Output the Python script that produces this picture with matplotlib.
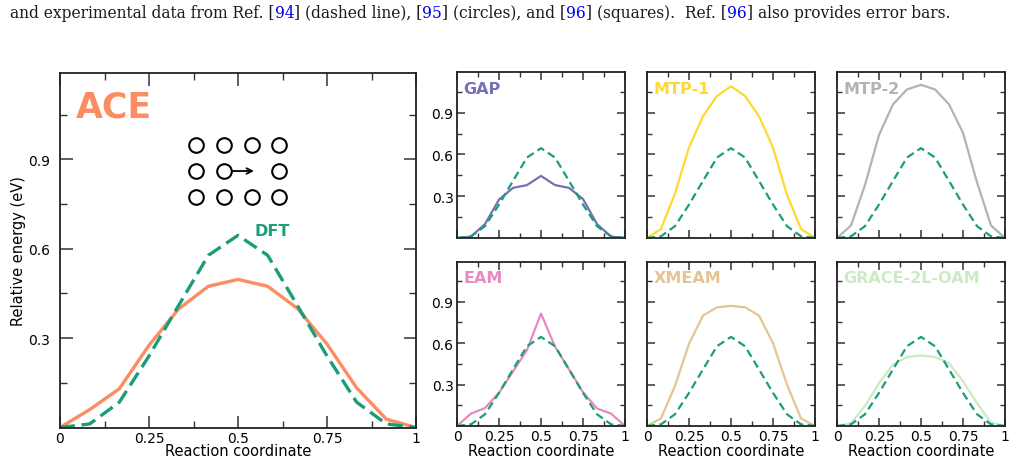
import numpy as np
import matplotlib.pyplot as plt

# reaction coordinate, 13 images along the path
rc = np.linspace(0, 1, 13)

dft = [0, 0.012, 0.085, 0.24, 0.41, 0.578, 0.645, 0.578, 0.41, 0.24, 0.085, 0.012, 0]
ace = [0, 0.06, 0.13, 0.276, 0.398, 0.474, 0.497, 0.474, 0.40, 0.28, 0.133, 0.028, 0]
gap = [0, 0.01, 0.10, 0.276, 0.36, 0.38, 0.446, 0.38, 0.36, 0.28, 0.10, 0.01, 0]
mtp1 = [0, 0.065, 0.32, 0.65, 0.875, 1.02, 1.09, 1.02, 0.875, 0.65, 0.31, 0.065, 0]
mtp2 = [0, 0.09, 0.38, 0.74, 0.96, 1.067, 1.10, 1.067, 0.96, 0.755, 0.40, 0.09, 0]
eam = [0, 0.09, 0.13, 0.24, 0.395, 0.55, 0.815, 0.575, 0.41, 0.245, 0.127, 0.09, 0]
xmeam = [0, 0.055, 0.29, 0.595, 0.80, 0.86, 0.87, 0.86, 0.80, 0.60, 0.30, 0.055, 0]
grace = [0, 0.02, 0.145, 0.31, 0.445, 0.50, 0.51, 0.50, 0.455, 0.325, 0.165, 0.025, 0]

small = [('GAP', gap, '#7570b3'), ('MTP-1', mtp1, '#ffd92f'), ('MTP-2', mtp2, '#b3b3b3'),
         ('EAM', eam, '#e78ac3'), ('XMEAM', xmeam, '#e5c494'), ('GRACE-2L-OAM', grace, '#ccebc5')]

xt = [0, 0.25, 0.5, 0.75, 1]
xtl = ['0', '0.25', '0.5', '0.75', '1']
yt = [0.3, 0.6, 0.9]
ytl = ['0.3', '0.6', '0.9']

c_dft = '#1b9e77'
c_ace = '#fc8d62'

W, H = 1014, 464
fig = plt.figure(figsize=(W / 100, H / 100), dpi=100)


def style(ax, big=False):
    ax.set_xlim(0, 1)
    ax.set_ylim(0, 1.19)
    ax.set_xticks(xt)
    ax.set_xticks(np.arange(0.125, 1, 0.25), minor=True)
    ax.set_yticks(yt)
    ax.set_yticks([0.15, 0.45, 0.75, 1.05], minor=True)
    L = 9 if big else 6
    ax.tick_params(which='major', direction='in', top=True, right=True, length=L, width=1.1,
                   labelsize=10, pad=2.5, color='#333333')
    ax.tick_params(which='minor', direction='in', top=True, right=True, length=L * 0.55, width=1.0,
                   color='#333333')
    for s in ax.spines.values():
        s.set_linewidth(1.3)
        s.set_color('#222222')


# big ACE panel
ax = fig.add_axes([60 / W, 1 - 428.5 / H, 356 / W, 354.5 / H])
style(ax, big=True)
ax.tick_params(axis='y', which='major', pad=7)
ax.plot(rc, ace, color=c_ace, lw=2.4)
ax.plot(rc, dft, color=c_dft, lw=2.4, dashes=(4.5, 2.0))
ax.set_xticklabels(xtl)
ax.set_yticklabels(ytl)
ax.set_xlabel('Reaction coordinate', fontsize=10.5)
ax.set_ylabel('Relative energy (eV)', fontsize=10.5)
ax.xaxis.set_label_coords(0.5, -0.045)
ax.yaxis.set_label_coords(-0.095, 0.5)
ax.text(0.045, 0.905, 'ACE', transform=ax.transAxes, fontsize=25, fontweight='bold',
        color=c_ace, va='center', ha='left')
ax.text(0.545, 0.66, 'DFT', fontsize=11.5, fontweight='bold', color=c_dft, va='center', ha='left')

# vacancy hop sketch
cx = [0.382, 0.461, 0.539, 0.616]
cy = [0.947, 0.861, 0.775]
for j, yy in enumerate(cy):
    for i, xx in enumerate(cx):
        if j == 1 and i == 2:
            continue
        ax.plot(xx, yy, 'o', ms=10.5, mfc='white', mec='black', mew=1.5)
ax.annotate('', xy=(0.545, 0.861), xytext=(0.485, 0.861),
            arrowprops=dict(arrowstyle='->', color='black', lw=1.3, shrinkA=0, shrinkB=0))

# small panels
lefts = [457, 647, 837]
rows = [(73.3, 239), (262.7, 427)]
for k, (name, vals, col) in enumerate(small):
    r, c = divmod(k, 3)
    top, bot = rows[r]
    a = fig.add_axes([lefts[c] / W, 1 - bot / H, 168 / W, (bot - top) / H])
    style(a)
    a.plot(rc, vals, color=col, lw=1.6)
    a.plot(rc, dft, color=c_dft, lw=1.6, dashes=(3.6, 2.0))
    a.text(0.04, 0.905, name, transform=a.transAxes, fontsize=11.5, fontweight='bold',
           color=col, va='center', ha='left')
    if r == 1:
        a.set_xticklabels(xtl)
        a.set_xlabel('Reaction coordinate', fontsize=10.5)
        a.xaxis.set_label_coords(0.5, -0.103)
    else:
        a.set_xticklabels([])
    if c == 0:
        a.set_yticklabels(ytl)
    else:
        a.set_yticklabels([])

# caption line at top
pieces = [('and experimental data from Ref. [', 'k'), ('94', 'b'), ('] (dashed line), [', 'k'),
          ('95', 'b'), ('] (circles), and [', 'k'), ('96', 'b'), ('] (squares).  Ref. [', 'k'),
          ('96', 'b'), ('] also provides error bars.', 'k')]
renderer = fig.canvas.get_renderer()
x = 10 / W
for s, cc in pieces:
    t = fig.text(x, 1 - 13 / H, s, color='#0000ee' if cc == 'b' else '#1a1a1a',
                 fontsize=11.2, family='DejaVu Serif', va='center', ha='left')
    bb = t.get_window_extent(renderer)
    x = bb.x1 / W

fig.savefig('out.png', dpi=100)
